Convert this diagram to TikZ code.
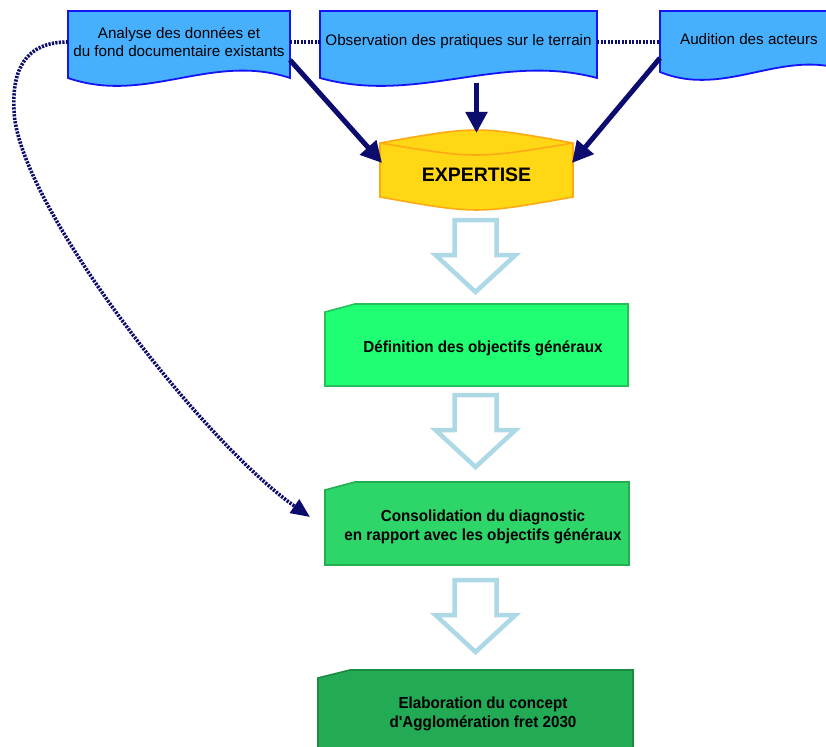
\documentclass[tikz,border=0pt]{standalone}
\usepackage{fontspec}
\setmainfont{Liberation Sans}
\newfontfamily\narrowfont[FakeStretch=0.95]{Liberation Sans}
\usetikzlibrary{arrows.meta,calc}
\definecolor{docfill}{RGB}{70,176,255}
\definecolor{docline}{RGB}{20,20,245}
\definecolor{navy}{RGB}{12,12,110}
\definecolor{gold}{RGB}{255,215,20}
\definecolor{goldline}{RGB}{255,170,20}
\definecolor{hollowblue}{RGB}{173,216,230}
\definecolor{greenA}{RGB}{32,255,115}
\definecolor{greenAl}{RGB}{40,190,90}
\definecolor{greenB}{RGB}{46,214,106}
\definecolor{greenBl}{RGB}{35,175,80}
\definecolor{greenC}{RGB}{35,170,85}
\definecolor{greenCl}{RGB}{25,140,65}
\begin{document}
\begin{tikzpicture}[x=1pt,y=-1pt,
  doc/.style={fill=docfill,draw=docline,line width=1.8pt,line join=miter},
  hit/.style={draw=none,inner sep=0pt,outer sep=0pt},
  btxt/.style={font=\fontsize{15.2}{18}\selectfont,align=center,inner sep=0pt},
  gtxt/.style={font=\narrowfont\bfseries\fontsize{16}{19.5}\selectfont,align=center,inner sep=0pt},
  etxt/.style={font=\bfseries\fontsize{19.5}{22}\selectfont,inner sep=0pt},
  cyl/.style={fill=gold,draw=goldline,line width=1.6pt},
  gbox/.style={line width=1.6pt,line join=miter},
  link/.style={draw=navy,line width=3.6pt,dash pattern=on 2.2pt off 1.3pt},
  feed/.style={draw=navy,line width=5pt,-{Triangle[length=21pt,width=21pt]}},
  curvedlink/.style={link,-{Triangle[length=19pt,width=16pt]}},
  hollowpath/.style={draw=hollowblue,line width=4.5pt,fill=white,line join=miter},
  hollow arrow/.pic={\path[hollowpath] (-21,0) -- (21,0) -- (21,35) -- (40,35) -- (0,72) -- (-40,35) -- (-21,35) -- cycle;}
]
\useasboundingbox (0,0) rectangle (826,746);
\clip (0,0) rectangle (826,746);

% document shapes
\path[doc] (68,11) -- (290,11) -- (290,78) .. controls (212,52) and (146,105) .. (68,78) -- cycle;
\path[doc] (320,11) -- (597,11) -- (597,78) .. controls (500,52) and (417,105) .. (320,78) -- cycle;
\path[doc] (660,11) -- (850,11) -- (850,72) .. controls (783.5,46) and (726.5,99) .. (660,72) -- cycle;
\node[hit,btxt,minimum width=222pt,minimum height=62pt] (b1) at (179,42) {Analyse des données et\\du fond documentaire existants};
\node[hit,btxt,minimum width=277pt,minimum height=62pt] (b2) at (458.5,42) {Observation des pratiques sur le terrain};
\node[hit,btxt,minimum width=178pt,minimum height=58pt] (b3) at (749,39) {Audition des acteurs};

% cylinder
\path[cyl] (380,143) .. controls (476.5,125.7) .. (573,143) -- (573,197) .. controls (476.5,214.3) .. (380,197) -- cycle;
\draw[goldline,line width=1.6pt] (380,143) .. controls (476.5,159) .. (573,143);
\node[hit,minimum width=193pt,minimum height=54pt] (exp) at (476.5,170) {};
\node[etxt] (expt) at ($(exp.center)+(0,5)$) {EXPERTISE};

% hollow block arrows
\pic at (475.5,220) {hollow arrow};
\pic at (475.5,395) {hollow arrow};
\pic at (475.5,580) {hollow arrow};

% green boxes
\path[gbox,fill=greenA,draw=greenAl] (325,312) -- (355,304) -- (628,304) -- (628,386) -- (325,386) -- cycle;
\path[gbox,fill=greenB,draw=greenBl] (325,490) -- (355,482) -- (629,482) -- (629,565) -- (325,565) -- cycle;
\path[gbox,fill=greenC,draw=greenCl] (318,678) -- (350,670) -- (633,670) -- (633,760) -- (318,760) -- cycle;
\node[hit,minimum width=303pt,minimum height=82pt] (def) at (476.5,345) {};
\node[hit,minimum width=304pt,minimum height=83pt] (cons) at (477,523.5) {};
\node[hit,minimum width=315pt,minimum height=90pt] (elab) at (475.5,715) {};
\node[gtxt] (deft) at (483,348) {Définition des objectifs généraux};
\node[gtxt] (const) at (483,527) {Consolidation du diagnostic\\en rapport avec les objectifs généraux};
\node[gtxt] (elabt) at (483,714) {Elaboration du concept\\d'Agglomération fret 2030};

% connectors
\draw[link] (b1.east) -- (b1.east -| b2.west);
\draw[link] (b2.east) -- (b2.east -| b3.west);
\draw[feed] ($(b1.east)+(0,18)$) -- ($(exp.west)+(2,-7)$);
\draw[feed] ($(exp.north)+(0,-60)$) -- ($(exp.north)+(0,-10)$);
\draw[feed] ($(b3.west)+(0,19)$) -- ($(exp.east)+(-1,-7)$);
\draw[curvedlink] (b1.west) .. controls (25,42) and (12,70) .. (14,110)
  .. controls (16,200) and (200,440) .. ($(cons.west)+(-15,-6.5)$);
\end{tikzpicture}
\end{document}
